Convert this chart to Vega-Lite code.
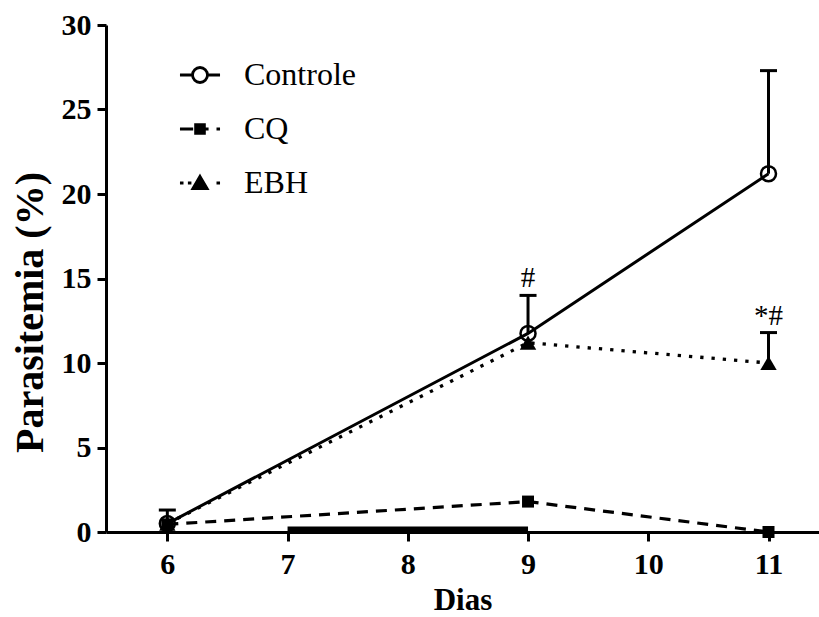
{
  "$schema": "https://vega.github.io/schema/vega-lite/v6.json",
  "width": 713,
  "height": 507,
  "autosize": {"type": "none"},
  "padding": {"left": 106, "top": 25, "right": 0, "bottom": 85},
  "background": "white",
  "config": {
    "view": {"stroke": null},
    "font": "Liberation Serif",
    "axis": {
      "grid": false,
      "domainColor": "black",
      "domainWidth": 3,
      "tickColor": "black",
      "tickWidth": 3,
      "tickSize": 9,
      "labelColor": "black",
      "labelFont": "Liberation Serif",
      "labelFontWeight": "bold",
      "labelFontSize": 30,
      "titleFont": "Liberation Serif",
      "titleFontWeight": "bold",
      "titleColor": "black"
    },
    "legend": {
      "orient": "none",
      "legendX": 78,
      "legendY": 34,
      "padding": 0,
      "symbolSize": 484,
      "labelOffset": 28,
      "labelFont": "Liberation Serif",
      "labelFontSize": 32,
      "labelColor": "black",
      "rowPadding": 22,
      "symbolStrokeColor": "black",
      "symbolStrokeWidth": 2.8,
      "symbolOpacity": 1
    }
  },
  "datasets": {
    "series": [
      {"dia": 6, "grupo": "Controle", "media": 0.5, "sup": 1.3, "sig": null},
      {"dia": 9, "grupo": "Controle", "media": 11.75, "sup": 14.0, "sig": "#"},
      {"dia": 11, "grupo": "Controle", "media": 21.2, "sup": 27.3, "sig": null},
      {"dia": 6, "grupo": "CQ", "media": 0.45, "sup": null, "sig": null},
      {"dia": 9, "grupo": "CQ", "media": 1.8, "sup": null, "sig": null},
      {"dia": 11, "grupo": "CQ", "media": 0.0, "sup": null, "sig": null},
      {"dia": 6, "grupo": "EBH", "media": 0.5, "sup": null, "sig": null},
      {"dia": 9, "grupo": "EBH", "media": 11.2, "sup": null, "sig": null},
      {"dia": 11, "grupo": "EBH", "media": 10.0, "sup": 11.8, "sig": "*#"}
    ],
    "tratamento": [{"dia": 7, "dia_fim": 9, "media": 0}]
  },
  "data": {"name": "series"},
  "encoding": {
    "x": {
      "field": "dia",
      "type": "quantitative",
      "title": "Dias",
      "scale": {"domain": [5.49, 11.42], "nice": false, "zero": false},
      "axis": {
        "values": [6, 7, 8, 9, 10, 11],
        "labelPadding": 8,
        "labelFlush": false,
        "titleFontSize": 31,
        "titleY": 77,
        "titleBaseline": "alphabetic"
      }
    },
    "y": {
      "field": "media",
      "type": "quantitative",
      "title": "Parasitemia (%)",
      "scale": {"domain": [0, 30], "nice": false},
      "axis": {
        "values": [0, 5, 10, 15, 20, 25, 30],
        "labelPadding": 6,
        "titleFontSize": 40,
        "titleAngle": 270,
        "titleX": -64,
        "titleY": 287,
        "titleBaseline": "alphabetic",
        "titleAlign": "center"
      }
    }
  },
  "layer": [
    {
      "data": {"name": "tratamento"},
      "mark": {"type": "rule", "color": "black", "strokeWidth": 7, "yOffset": -2, "strokeCap": "butt"},
      "encoding": {"x2": {"field": "dia_fim"}}
    },
    {
      "transform": [{"filter": "datum.grupo == 'Controle'"}],
      "mark": {"type": "line", "color": "black", "strokeWidth": 3}
    },
    {
      "transform": [{"filter": "datum.grupo == 'CQ'"}],
      "mark": {"type": "line", "color": "black", "strokeWidth": 3.2, "strokeDash": [11, 8]}
    },
    {
      "transform": [{"filter": "datum.grupo == 'EBH'"}],
      "mark": {"type": "line", "color": "black", "strokeWidth": 3.3, "strokeDash": [3.3, 8]}
    },
    {
      "transform": [{"filter": "datum.sup != null"}],
      "mark": {"type": "rule", "color": "black", "strokeWidth": 3},
      "encoding": {"y2": {"field": "sup"}}
    },
    {
      "transform": [{"filter": "datum.sup != null"}],
      "mark": {"type": "point", "shape": "M-1,0H1", "size": 289, "filled": false, "stroke": "black", "strokeWidth": 3, "opacity": 1},
      "encoding": {"y": {"field": "sup", "type": "quantitative", "title": "Parasitemia (%)"}}
    },
    {
      "transform": [{"filter": "datum.grupo == 'Controle'"}],
      "mark": {"type": "point", "shape": "circle", "size": 225, "filled": false, "stroke": "black", "strokeWidth": 2.5, "opacity": 1}
    },
    {
      "transform": [{"filter": "datum.grupo == 'CQ'"}],
      "mark": {"type": "point", "shape": "square", "size": 144, "filled": true, "fill": "black", "opacity": 1}
    },
    {
      "transform": [{"filter": "datum.grupo == 'EBH'"}],
      "mark": {"type": "point", "shape": "triangle-up", "size": 270, "filled": true, "fill": "black", "opacity": 1}
    },
    {
      "transform": [{"filter": "datum.sig != null"}],
      "mark": {"type": "text", "font": "Liberation Serif", "fontSize": 29, "color": "black", "baseline": "alphabetic", "dy": -8},
      "encoding": {
        "y": {"field": "sup", "type": "quantitative", "title": "Parasitemia (%)"},
        "text": {"field": "sig"}
      }
    },
    {
      "transform": [{"filter": "datum.dia < 0"}],
      "mark": {"type": "point", "filled": true},
      "encoding": {
        "shape": {
          "field": "grupo",
          "type": "nominal",
          "title": null,
          "scale": {
            "domain": ["Controle", "CQ", "EBH"],
            "range": [
              "M-1.82,0H-0.68M0.68,0H1.82M-0.68,0A0.68,0.68 0 1,0 0.68,0A0.68,0.68 0 1,0 -0.68,0Z",
              "M-1.82,0H-0.62M0.4,0H0.78M1.5,0H1.82M-0.4,-0.4H0.4V0.4H-0.4Z",
              "M-1.82,0H-1.5M-1.1,0H-0.78M1.5,0H1.82M0,-0.6L0.65,0.52L-0.65,0.52Z"
            ]
          },
          "legend": {
            "encode": {"symbols": {"update": {"stroke": {"value": "black"}, "strokeWidth": {"value": 2.8}, "opacity": {"value": 1}}}}
          }
        },
        "fill": {
          "field": "grupo",
          "type": "nominal",
          "title": null,
          "scale": {"domain": ["Controle", "CQ", "EBH"], "range": ["transparent", "black", "black"]},
          "legend": {
            "encode": {"symbols": {"update": {"stroke": {"value": "black"}, "strokeWidth": {"value": 2.8}, "opacity": {"value": 1}}}}
          }
        }
      }
    }
  ]
}
